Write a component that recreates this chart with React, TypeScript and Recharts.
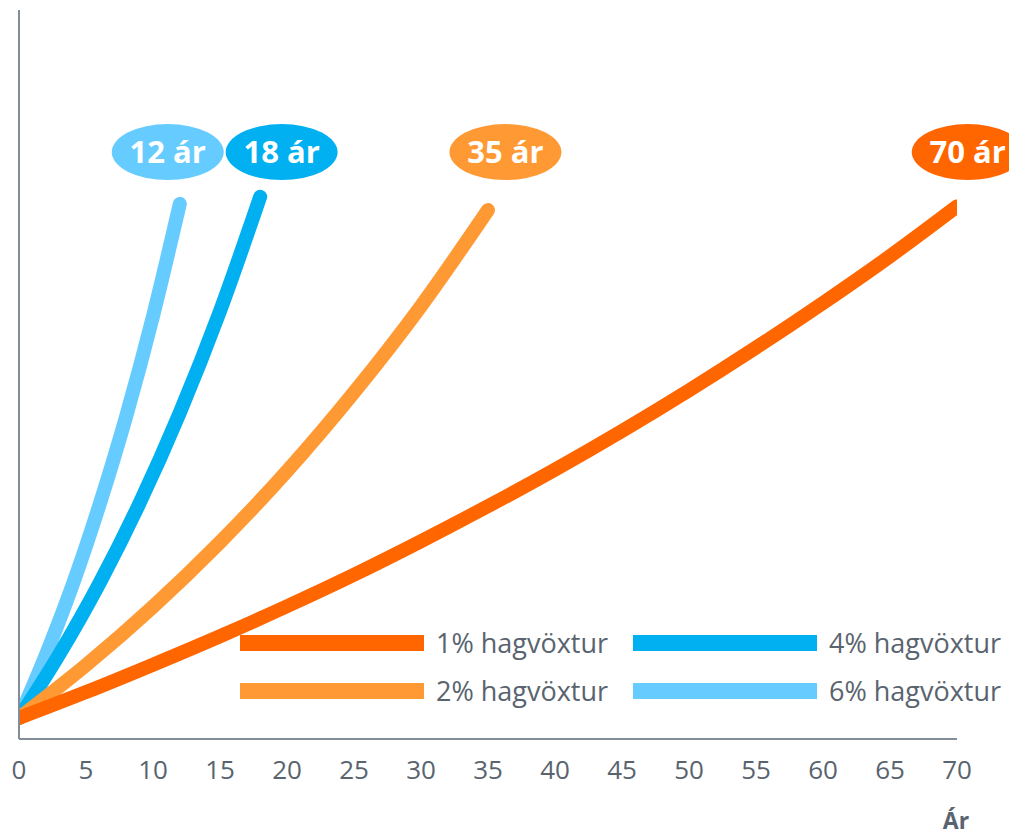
import { LineChart, Line, XAxis, YAxis, ReferenceDot, Legend } from 'recharts';

// growth curves (years -> relative value)
const years1 = [0, 5, 10, 15, 20, 25, 30, 35, 40, 45, 50, 55, 60, 65, 70];
const vals1 = [1.0, 1.051, 1.105, 1.161, 1.22, 1.282, 1.348, 1.417, 1.489, 1.565, 1.645, 1.729, 1.817, 1.909, 2.007];

const years2 = [0, 5, 10, 15, 20, 25, 30, 35];
const vals2 = [1.0, 1.104, 1.219, 1.346, 1.486, 1.641, 1.811, 2.0];

const years4 = [0, 3, 6, 9, 12, 15, 18];
const vals4 = [1.0, 1.125, 1.265, 1.423, 1.601, 1.801, 2.026];

const years6 = [0, 2, 4, 6, 8, 10, 12];
const vals6 = [1.0, 1.124, 1.262, 1.419, 1.594, 1.791, 2.012];

const seriesNames = ['1% hagvöxtur', '2% hagvöxtur', '4% hagvöxtur', '6% hagvöxtur'];
const seriesColors = ['#FF6600', '#FF9933', '#00B0F0', '#66CCFF'];
const badgeTexts = ['70 ár', '35 ár', '18 ár', '12 ár'];
const badgeX = [70.8, 36.3, 19.6, 11.1];
const badgeY = 2.114;

const xTicks = [0, 5, 10, 15, 20, 25, 30, 35, 40, 45, 50, 55, 60, 65, 70];

const toPoints = (xs: number[], ys: number[]) => xs.map((x, i) => ({ x, y: ys[i] }));
const seriesData = [
  toPoints(years1, vals1),
  toPoints(years2, vals2),
  toPoints(years4, vals4),
  toPoints(years6, vals6),
];

const textColor = '#59646F';
const axisColor = '#838D97';
const font = '"Open Sans", sans-serif';

const Badge = (props: any) => {
  const { cx, cy, text, color } = props;
  return (
    <g>
      <ellipse cx={cx} cy={cy} rx={56} ry={28} fill={color} />
      <text
        x={cx}
        y={cy + 11}
        textAnchor="middle"
        fill="#fff"
        fontSize={31}
        fontWeight={700}
        fontFamily={font}
      >
        {text}
      </text>
    </g>
  );
};

const LegendBox = () => (
  <div style={{ position: 'relative', width: 780, height: 90 }}>
    {seriesNames.map((name, i) => {
      const col = Math.floor(i / 2);
      const row = i % 2;
      return (
        <div
          key={name}
          style={{
            position: 'absolute',
            left: col * 393,
            top: row * 48,
            height: 32,
            display: 'flex',
            alignItems: 'center',
            whiteSpace: 'nowrap',
          }}
        >
          <div style={{ width: 184, height: 16, background: seriesColors[i], marginRight: 12 }} />
          <span style={{ fontFamily: font, fontSize: 27, color: textColor, lineHeight: '32px' }}>{name}</span>
        </div>
      );
    })}
  </div>
);

// draw order: 6% first, 1% on top
const drawOrder = [3, 2, 1, 0];

export default function App() {
  return (
    <div style={{ position: 'absolute', left: 0, top: 0, background: '#fff' }}>
      <LineChart width={1009} height={839} margin={{ top: 10, right: 52, bottom: 0, left: 0 }}>
        <XAxis
          type="number"
          dataKey="x"
          domain={[0, 70]}
          ticks={xTicks}
          allowDataOverflow
          interval={0}
          height={100}
          tickLine={false}
          tickSize={0}
          tickMargin={22}
          axisLine={{ stroke: axisColor, strokeWidth: 2 }}
          tick={{ fill: textColor, fontSize: 26, fontFamily: font }}
          label={{
            content: (p: any) => {
              const vb = p.viewBox;
              return (
                <text
                  x={956}
                  y={vb.y + vb.height - 10}
                  textAnchor="middle"
                  fill={textColor}
                  fontSize={23}
                  fontWeight={700}
                  fontFamily={font}
                >
                  Ár
                </text>
              );
            },
          }}
        />
        <YAxis
          type="number"
          dataKey="y"
          domain={[0.9587, 2.3937]}
          allowDataOverflow
          width={19}
          tick={false}
          tickLine={false}
          axisLine={{ stroke: axisColor, strokeWidth: 2 }}
        />
        {drawOrder.map((i) => (
          <Line
            key={seriesNames[i]}
            name={seriesNames[i]}
            data={seriesData[i]}
            dataKey="y"
            type="monotone"
            stroke={seriesColors[i]}
            strokeWidth={14}
            strokeLinecap="round"
            strokeLinejoin="round"
            dot={false}
            activeDot={false}
            isAnimationActive={false}
          />
        ))}
        {badgeTexts.map((t, i) => (
          <ReferenceDot
            key={t}
            x={badgeX[i]}
            y={badgeY}
            ifOverflow="visible"
            shape={(p: any) => <Badge {...p} text={t} color={seriesColors[i]} />}
          />
        ))}
        <Legend
          layout="horizontal"
          verticalAlign="middle"
          align="center"
          content={() => <LegendBox />}
          wrapperStyle={{ left: 240, top: 627, width: 780, height: 90 }}
        />
      </LineChart>
    </div>
  );
}
